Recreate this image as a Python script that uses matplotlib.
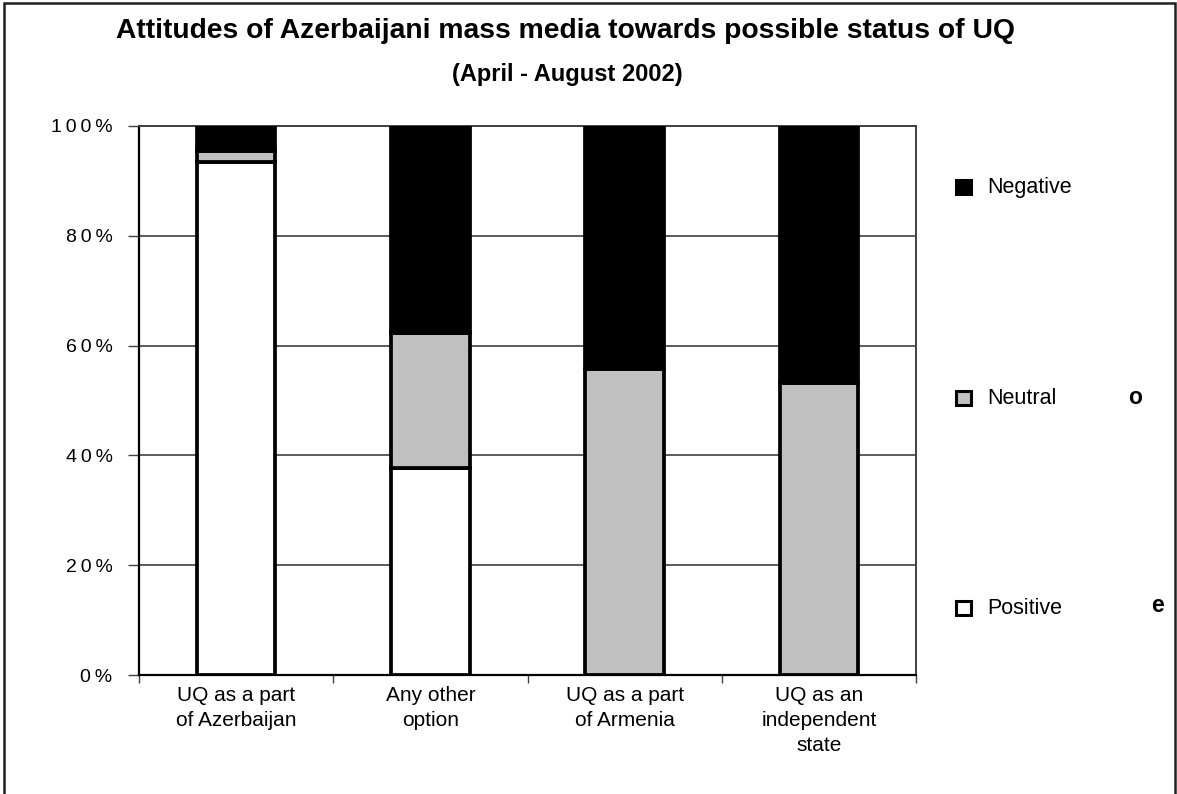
import matplotlib
matplotlib.use("Agg")
import matplotlib.pyplot as plt
from matplotlib.patches import Rectangle
import numpy as np

plt.rcParams["font.family"] = ["Liberation Sans", "DejaVu Sans"]

categories = ["UQ as a part\nof Azerbaijan", "Any other\noption",
              "UQ as a part\nof Armenia", "UQ as an\nindependent\nstate"]
positive = [93.5, 37.7, 0.0, 0.0]
neutral = [2.0, 24.6, 55.7, 53.2]
negative = [4.5, 37.7, 44.3, 46.8]
series_names = ["Negative", "Neutral", "Positive"]
ytick_values = [0, 20, 40, 60, 80, 100]
ytick_labels = ["0\u2009%", "2\u20090\u2009%", "4\u20090\u2009%", "6\u20090\u2009%",
                "8\u20090\u2009%", "1\u20090\u20090\u2009%"]

W, H = 1177, 794
fig = plt.figure(figsize=(W / 100, H / 100), dpi=100)

# outer frame around the whole chart
fig.add_artist(Rectangle((4 / W, -0.01), (W - 6) / W, 1.01 - 3 / H,
                         transform=fig.transFigure, fill=False,
                         edgecolor="#202020", linewidth=1.8))

ax = fig.add_axes([139 / W, 1 - 675 / H, (916 - 139) / W, (675 - 126) / H])

x = np.arange(len(categories))
width = 0.405
edge = dict(edgecolor="black", linewidth=2.7)
pos = np.array(positive)
neu = np.array(neutral)
neg = np.array(negative)
ax.bar(x, pos, width, color="white", zorder=3, **edge)
ax.bar(x, neu, width, bottom=pos, color="#c0c0c0", zorder=3, **edge)
ax.bar(x, neg, width, bottom=pos + neu, color="black", zorder=3, **edge)

ax.set_xlim(-0.5, len(categories) - 0.5)
ax.set_ylim(0, 100)
ax.set_yticks(ytick_values)
ax.set_yticklabels(ytick_labels, fontsize=14)
ax.yaxis.grid(True, color="#404040", linewidth=1.2, zorder=0)
ax.set_axisbelow(True)

ax.set_xticks(x)
ax.set_xticklabels(categories, fontsize=15, va="top", linespacing=1.38)
ax.set_xticks(np.arange(len(categories) + 1) - 0.5, minor=True)
ax.tick_params(axis="x", which="major", length=0, pad=8)
ax.tick_params(axis="x", which="minor", length=6, width=1, color="#404040")
ax.tick_params(axis="y", length=8, width=1, color="#404040", pad=11)

for side in ("left", "bottom"):
    ax.spines[side].set_color("black")
    ax.spines[side].set_linewidth(1.6)
for side in ("top", "right"):
    ax.spines[side].set_color("#404040")
    ax.spines[side].set_linewidth(1.4)

# titles
fig.text(566 / W, 1 - 31 / H, "Attitudes of Azerbaijani mass media towards possible status of UQ",
         ha="center", va="center", fontsize=20.3, fontweight="bold")
fig.text(567 / W, 1 - 75 / H, "(April - August 2002)",
         ha="center", va="center", fontsize=17, fontweight="bold")

# legend drawn at the right of the plot area
legend_y = [187, 398, 608]
legend_face = ["black", "#c0c0c0", "white"]
for name, yy, fc in zip(series_names, legend_y, legend_face):
    fig.add_artist(Rectangle((956 / W, 1 - (yy + 7) / H), 15 / W, 14 / H,
                             transform=fig.transFigure, facecolor=fc,
                             edgecolor="black", linewidth=2.2))
    fig.text(987 / W, 1 - yy / H, name, ha="left", va="center", fontsize=15.5)

fig.text(1135 / W, 1 - 397 / H, "o", ha="center", va="center", fontsize=16.5, fontweight="bold")
fig.text(1157 / W, 1 - 606 / H, "e", ha="center", va="center", fontsize=16.5, fontweight="bold")

fig.savefig("out.png", dpi=100, facecolor="white")
